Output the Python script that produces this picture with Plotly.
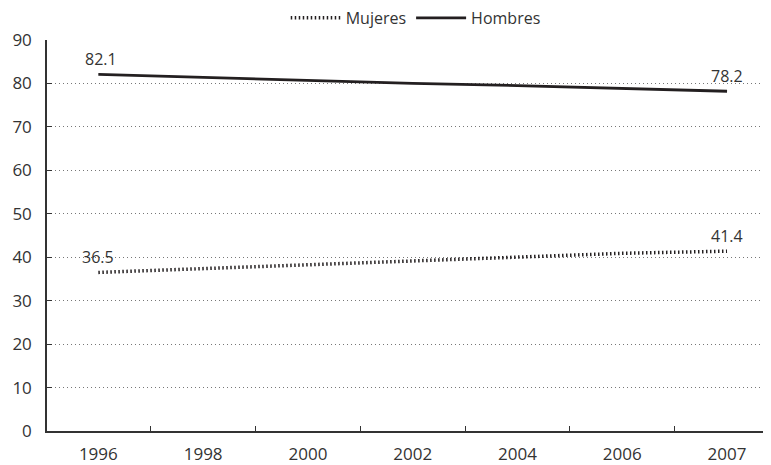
import plotly.graph_objects as go

years = ["1996", "1998", "2000", "2002", "2004", "2006", "2007"]
mujeres = [36.5, 37.4, 38.3, 39.2, 40.0, 40.9, 41.4]
hombres = [82.1, 81.4, 80.7, 80.0, 79.5, 78.8, 78.2]
y_ticks = [0, 10, 20, 30, 40, 50, 60, 70, 80, 90]

FONT = "Open Sans"
TXT = "#333333"
LINE = "#231f20"

fig = go.Figure()
fig.add_trace(go.Scatter(
    x=years, y=mujeres, name="Mujeres", mode="lines",
    line=dict(color=LINE, width=3.5, dash="1.5px,2.5px"),
))
fig.add_trace(go.Scatter(
    x=years, y=hombres, name="Hombres", mode="lines",
    line=dict(color=LINE, width=2.8),
))

# data labels at first and last points (x given as category index)
first, last = 0, len(years) - 1
labels = [
    (first, hombres[first], 3),
    (last, hombres[last], 0),
    (first, mujeres[first], 0),
    (last, mujeres[last], 0),
]
for x, y, xs in labels:
    fig.add_annotation(x=x, y=y, text=f"{y:.1f}", showarrow=False,
                       xref="x", yref="y", yanchor="middle", yshift=15,
                       xshift=xs, font=dict(family=FONT, size=16, color=TXT))

# page body adds an 8px offset, so the figure is sized to the remaining area
fig.update_layout(
    width=763, height=457,
    margin=dict(l=39, r=1, t=32, b=34, autoexpand=False),
    paper_bgcolor="white", plot_bgcolor="white",
    font=dict(family=FONT, size=17, color=TXT),
    showlegend=True,
    legend=dict(orientation="h", x=0.51, xanchor="center", y=1.013, yanchor="bottom",
                font=dict(family=FONT, size=16, color=TXT),
                itemwidth=50, tracegroupgap=0, bgcolor="rgba(0,0,0,0)"),
    xaxis=dict(type="category", range=[-0.49, 6.41],
               showline=True, linecolor="#333333", linewidth=1.5,
               ticks="inside", tickson="boundaries", ticklen=5, tickcolor="#333333",
               tickwidth=1.2, showgrid=False, ticklabelstandoff=7, automargin=False,
               tickfont=dict(family=FONT, size=17, color=TXT)),
    yaxis=dict(range=[0, 90], tickvals=y_ticks, showline=True, linecolor="#333333",
               linewidth=1.5, showgrid=True, gridcolor="#777777", gridwidth=1,
               griddash="1px,3px", zeroline=False, ticks="inside", ticklen=5,
               tickcolor="#333333", tickwidth=1.2, automargin=False,
               ticklabelstandoff=10,
               tickfont=dict(family=FONT, size=17, color=TXT)),
)

fig.write_html("out.html")
